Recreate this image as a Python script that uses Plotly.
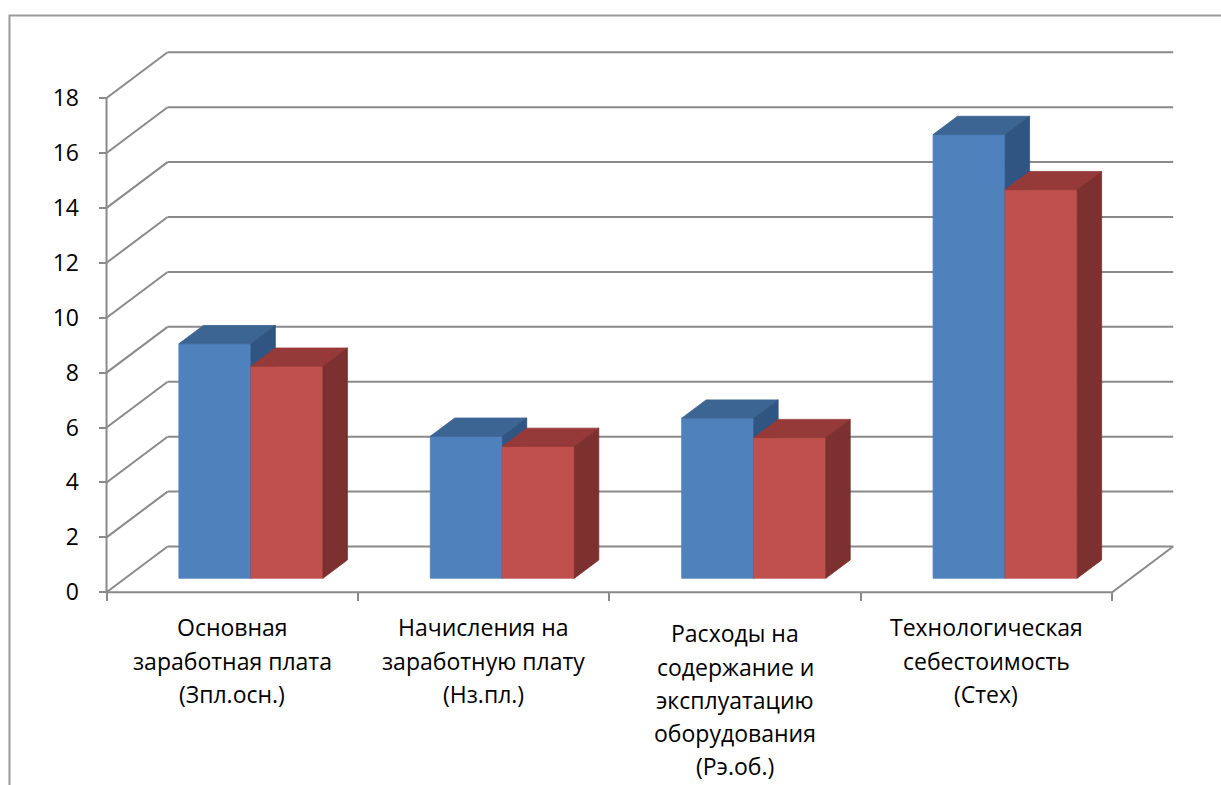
import plotly.graph_objects as go

# ---------------- data ----------------
categories = [
    "Основная\nзаработная плата\n(Зпл.осн.)",
    "Начисления на\nзаработную плату\n(Нз.пл.)",
    "Расходы на\nсодержание и\nэксплуатацию\nоборудования\n(Рэ.об.)",
    "Технологическая\nсебестоимость\n(Стех)",
]
series_names = ["Ряд 1", "Ряд 2"]
series_1 = [8.54, 5.17, 5.83, 16.16]
series_2 = [7.72, 4.80, 5.12, 14.15]
y_ticks = [0, 2, 4, 6, 8, 10, 12, 14, 16, 18]

# ---------------- style / geometry ----------------
FONT = "Open Sans, Noto Sans, DejaVu Sans, sans-serif"
GRID = "#8A8A8A"
FRONT = ["#4F81BD", "#C0504D"]
TOP = ["#3D6594", "#953A38"]
SIDE = ["#315583", "#7C302F"]

W, H = 1221, 785
PX_X0 = 107.0        # pixel of x = -0.5 (front-left corner)
PX_PER_CAT = 251.2
PX_Y0 = 592.0        # pixel of value 0 on the front plane
PX_PER_UNIT = 27.44

DX = 61.0 / PX_PER_CAT       # full depth, x units
DY = 45.7 / PX_PER_UNIT      # full depth, value units
F0 = 0.306                   # bar front plane (fraction of depth)
FD = 0.40                    # bar depth (fraction of depth)
BW = 72.0 / PX_PER_CAT       # bar width

n = len(categories)
ymax = y_ticks[-1]
xr = [-0.53, n - 0.5 + DX + 0.035]
yr = [-0.1, ymax + DY + 0.12]

plot_w = (xr[1] - xr[0]) * PX_PER_CAT
plot_h = (yr[1] - yr[0]) * PX_PER_UNIT
m_l = PX_X0 - (-0.5 - xr[0]) * PX_PER_CAT
m_r = W - m_l - plot_w
m_b = H - (PX_Y0 + (0 - yr[0]) * PX_PER_UNIT)
m_t = H - m_b - plot_h

fig = go.Figure()

# ---------------- walls / grid ----------------
gx, gy = [], []
x_left, x_right = -0.5, n - 0.5
for v in y_ticks:
    gx += [x_left + DX, x_right + DX, None]
    gy += [v + DY, v + DY, None]
    gx += [x_left, x_left + DX, None]
    gy += [v, v + DY, None]
gx += [x_left, x_left, None]
gy += [0, ymax, None]
gx += [x_left, x_right, x_right + DX, None]
gy += [0, 0, DY, None]
fig.add_trace(go.Scatter(x=gx, y=gy, mode="lines", line=dict(color=GRID, width=2),
                         hoverinfo="skip", showlegend=False))

# ---------------- 3-D bars ----------------
base = F0 * DY
ddx, ddy = FD * DX, FD * DY
for s, vals in enumerate([series_1, series_2]):
    fx, fy, tx, ty, sx, sy = [], [], [], [], [], []
    for i, v in enumerate(vals):
        c = i + F0 * DX
        x0 = c - BW + s * BW
        x1 = x0 + BW
        top = base + v
        fx += [x0, x1, x1, x0, x0, None]
        fy += [base, base, top, top, base, None]
        tx += [x0, x1, x1 + ddx, x0 + ddx, x0, None]
        ty += [top, top, top + ddy, top + ddy, top, None]
        sx += [x1, x1 + ddx, x1 + ddx, x1, x1, None]
        sy += [base, base + ddy, top + ddy, top, base, None]
    for xs, ys, col in [(fx, fy, FRONT[s]), (tx, ty, TOP[s]), (sx, sy, SIDE[s])]:
        fig.add_trace(go.Scatter(x=xs, y=ys, mode="lines", fill="toself", fillcolor=col,
                                 line=dict(color=col, width=0.8), name=series_names[s],
                                 hoverinfo="skip", showlegend=False))

# ---------------- category labels ----------------
first_line_px = [627, 627, 633, 627]
LINE_STEP = 33.3
for i, lab in enumerate(categories):
    for k, line in enumerate(lab.split("\n")):
        fig.add_annotation(x=i, y=0, xref="x", yref="y", text=line, showarrow=False,
                           xanchor="center", yanchor="middle",
                           yshift=-(first_line_px[i] + k * LINE_STEP - PX_Y0),
                           font=dict(family=FONT, size=23, color="#000000"))

# ---------------- outer chart border ----------------
def px_to_paper_x(px):
    return (px - m_l) / plot_w

def px_to_paper_y(py):
    return (H - m_b - py) / plot_h

fig.add_shape(type="rect", xref="paper", yref="paper",
              x0=px_to_paper_x(10), x1=px_to_paper_x(W + 20),
              y0=px_to_paper_y(H + 20), y1=px_to_paper_y(15.5),
              line=dict(color="#9A9A9A", width=2), fillcolor="rgba(0,0,0,0)", layer="below")

fig.update_layout(
    width=W, height=H,
    margin=dict(l=m_l, r=m_r, t=m_t, b=m_b, pad=0),
    paper_bgcolor="white", plot_bgcolor="white",
    showlegend=False,
    xaxis=dict(range=xr, anchor="free", position=(0 - yr[0]) / (yr[1] - yr[0]),
               tickmode="array", tickvals=[i - 0.5 for i in range(n + 1)],
               ticks="outside", ticklen=8, tickwidth=2, tickcolor=GRID,
               showticklabels=False, showgrid=False, zeroline=False, showline=False,
               fixedrange=True),
    yaxis=dict(range=yr, anchor="free", position=(-0.5 - xr[0]) / (xr[1] - xr[0]),
               tickmode="array", tickvals=y_ticks, ticktext=[str(t) for t in y_ticks],
               ticks="outside", ticklen=8, tickwidth=2, tickcolor=GRID,
               ticklabelstandoff=15,
               tickfont=dict(family=FONT, size=23, color="#000000"),
               showgrid=False, zeroline=False, showline=False, fixedrange=True),
)

fig.write_html("out.html")
